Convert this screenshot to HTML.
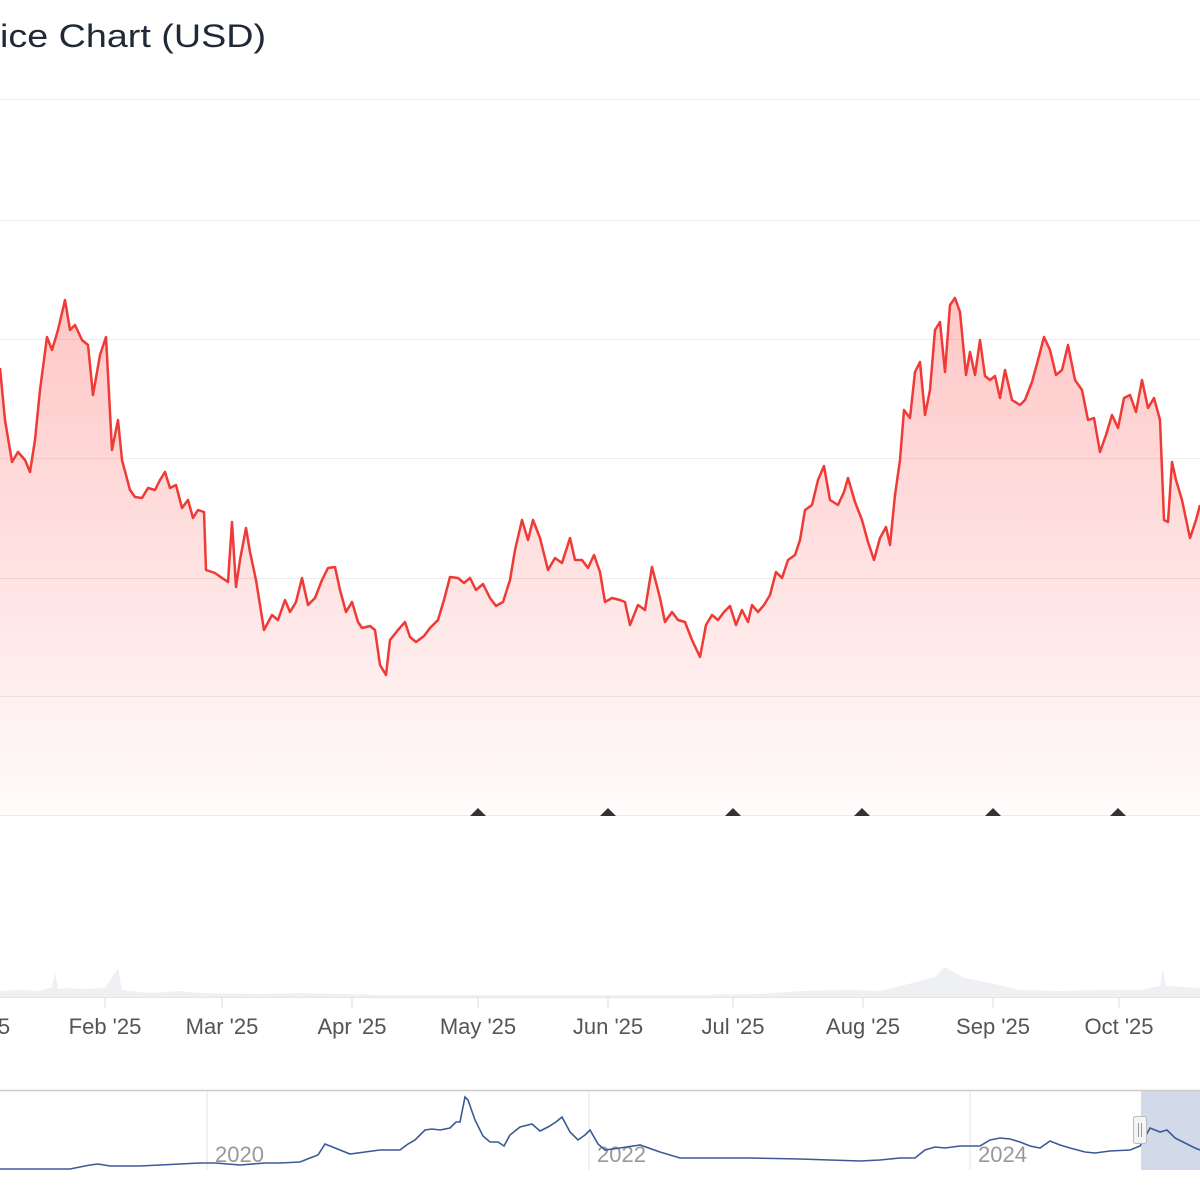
<!DOCTYPE html>
<html><head><meta charset="utf-8"><style>
html,body{margin:0;padding:0;background:#fff;width:1200px;height:1200px;overflow:hidden}
svg{display:block;font-family:"Liberation Sans",sans-serif}
</style></head><body>
<svg width="1200" height="1200" viewBox="0 0 1200 1200" xmlns="http://www.w3.org/2000/svg">
<defs>
<linearGradient id="g" gradientUnits="userSpaceOnUse" x1="0" y1="300" x2="0" y2="815">
<stop offset="0" stop-color="#f44" stop-opacity="0.3"/>
<stop offset="1" stop-color="#f44" stop-opacity="0.02"/>
</linearGradient>
<path id="p" d="M0,368 L5,420 L12,462 L18,452 L25,460 L30,472 L35,440 L40,390 L47,337 L52,350 L58,330 L65,300 L70,330 L75,325 L82,340 L88,345 L93,395 L100,355 L106,337 L112,450 L118,420 L122,460 L130,490 L135,497 L142,498 L148,488 L155,490 L160,480 L165,472 L170,488 L176,485 L182,508 L188,500 L193,518 L198,510 L204,512 L206,570 L215,573 L222,578 L228,582 L232,522 L236,587 L240,560 L246,528 L250,552 L256,580 L264,630 L272,615 L278,620 L285,600 L290,612 L296,602 L302,578 L308,605 L315,598 L322,580 L328,568 L335,567 L340,590 L346,612 L352,602 L358,622 L362,628 L370,626 L375,630 L380,665 L386,675 L390,640 L398,630 L405,622 L410,637 L416,642 L424,636 L430,628 L438,620 L444,600 L450,577 L458,578 L464,583 L470,578 L476,590 L483,584 L490,598 L496,606 L503,602 L510,580 L515,550 L522,520 L528,540 L533,520 L540,538 L548,570 L555,558 L562,563 L570,538 L575,560 L582,560 L588,568 L594,555 L600,572 L605,602 L612,598 L620,600 L625,602 L630,625 L638,605 L645,610 L652,567 L660,598 L665,622 L672,612 L678,620 L685,622 L692,640 L700,657 L706,625 L712,615 L718,620 L724,612 L730,606 L736,625 L742,610 L748,622 L752,605 L758,612 L764,605 L770,595 L776,572 L782,578 L788,560 L795,555 L800,540 L805,510 L812,505 L818,480 L824,466 L830,500 L838,505 L844,492 L848,478 L855,502 L862,520 L868,542 L874,560 L880,538 L886,527 L890,545 L895,495 L900,460 L904,410 L910,418 L915,372 L920,362 L925,415 L930,390 L935,330 L940,322 L945,372 L950,305 L955,298 L960,312 L966,375 L970,352 L975,375 L980,340 L985,376 L990,380 L995,376 L1000,398 L1005,370 L1012,400 L1020,405 L1025,400 L1032,382 L1038,360 L1044,337 L1050,350 L1056,375 L1062,370 L1068,345 L1075,380 L1082,390 L1088,420 L1094,418 L1100,452 L1106,435 L1112,415 L1118,428 L1124,398 L1130,395 L1136,412 L1142,380 L1148,408 L1154,398 L1160,420 L1164,520 L1168,522 L1172,462 L1176,480 L1182,500 L1190,538 L1196,520 L1200,505"/>
</defs>
<text x="0" y="47" font-size="32" fill="#1f2937" textLength="266" lengthAdjust="spacingAndGlyphs">ice Chart (USD)</text>
<g stroke="#ececec" stroke-width="1">
<line x1="0" x2="1200" y1="99.5" y2="99.5"/><line x1="0" x2="1200" y1="220.5" y2="220.5"/>
<line x1="0" x2="1200" y1="339.5" y2="339.5"/><line x1="0" x2="1200" y1="458.5" y2="458.5"/>
<line x1="0" x2="1200" y1="578.5" y2="578.5"/><line x1="0" x2="1200" y1="696.5" y2="696.5"/>
<line x1="0" x2="1200" y1="815.5" y2="815.5"/>
</g>
<path d="M0,368 L5,420 L12,462 L18,452 L25,460 L30,472 L35,440 L40,390 L47,337 L52,350 L58,330 L65,300 L70,330 L75,325 L82,340 L88,345 L93,395 L100,355 L106,337 L112,450 L118,420 L122,460 L130,490 L135,497 L142,498 L148,488 L155,490 L160,480 L165,472 L170,488 L176,485 L182,508 L188,500 L193,518 L198,510 L204,512 L206,570 L215,573 L222,578 L228,582 L232,522 L236,587 L240,560 L246,528 L250,552 L256,580 L264,630 L272,615 L278,620 L285,600 L290,612 L296,602 L302,578 L308,605 L315,598 L322,580 L328,568 L335,567 L340,590 L346,612 L352,602 L358,622 L362,628 L370,626 L375,630 L380,665 L386,675 L390,640 L398,630 L405,622 L410,637 L416,642 L424,636 L430,628 L438,620 L444,600 L450,577 L458,578 L464,583 L470,578 L476,590 L483,584 L490,598 L496,606 L503,602 L510,580 L515,550 L522,520 L528,540 L533,520 L540,538 L548,570 L555,558 L562,563 L570,538 L575,560 L582,560 L588,568 L594,555 L600,572 L605,602 L612,598 L620,600 L625,602 L630,625 L638,605 L645,610 L652,567 L660,598 L665,622 L672,612 L678,620 L685,622 L692,640 L700,657 L706,625 L712,615 L718,620 L724,612 L730,606 L736,625 L742,610 L748,622 L752,605 L758,612 L764,605 L770,595 L776,572 L782,578 L788,560 L795,555 L800,540 L805,510 L812,505 L818,480 L824,466 L830,500 L838,505 L844,492 L848,478 L855,502 L862,520 L868,542 L874,560 L880,538 L886,527 L890,545 L895,495 L900,460 L904,410 L910,418 L915,372 L920,362 L925,415 L930,390 L935,330 L940,322 L945,372 L950,305 L955,298 L960,312 L966,375 L970,352 L975,375 L980,340 L985,376 L990,380 L995,376 L1000,398 L1005,370 L1012,400 L1020,405 L1025,400 L1032,382 L1038,360 L1044,337 L1050,350 L1056,375 L1062,370 L1068,345 L1075,380 L1082,390 L1088,420 L1094,418 L1100,452 L1106,435 L1112,415 L1118,428 L1124,398 L1130,395 L1136,412 L1142,380 L1148,408 L1154,398 L1160,420 L1164,520 L1168,522 L1172,462 L1176,480 L1182,500 L1190,538 L1196,520 L1200,505 L1200,815 L0,815 Z" fill="url(#g)" stroke="none"/>
<use href="#p" fill="none" stroke="#ef3a36" stroke-width="2.5" stroke-linejoin="round"/>
<g fill="#333">
<path d="M478,808 l8,8 h-16 z"/><path d="M608,808 l8,8 h-16 z"/><path d="M733,808 l8,8 h-16 z"/>
<path d="M862,808 l8,8 h-16 z"/><path d="M993,808 l8,8 h-16 z"/><path d="M1118,808 l8,8 h-16 z"/>
</g>
<path d="M0,997 L0,991 L20,990 L40,991 L52,987 L55,972 L58,989 L70,988 L80,989 L105,988 L118,968 L122,990 L150,993 L180,991 L200,993 L260,994 L300,993 L380,995 L480,995 L560,995 L640,995 L700,995 L760,994 L800,991 L850,990 L880,991 L900,986 L920,981 L935,977 L945,967 L955,973 L965,978 L990,983 L1020,990 L1060,991 L1100,990 L1140,990 L1160,986 L1163,968 L1166,986 L1200,988 L1200,997 Z" fill="#eef0f4"/>
<line x1="0" x2="1200" y1="997.5" y2="997.5" stroke="#e6e6e6"/>
<g stroke="#ddd"><line x1="105" x2="105" y1="997" y2="1008"/><line x1="222" x2="222" y1="997" y2="1008"/><line x1="352" x2="352" y1="997" y2="1008"/><line x1="478" x2="478" y1="997" y2="1008"/><line x1="608" x2="608" y1="997" y2="1008"/><line x1="733" x2="733" y1="997" y2="1008"/><line x1="863" x2="863" y1="997" y2="1008"/><line x1="993" x2="993" y1="997" y2="1008"/><line x1="1119" x2="1119" y1="997" y2="1008"/></g>
<g font-size="22" fill="#555" text-anchor="middle">
<text x="4" y="1034">5</text><text x="105" y="1034">Feb '25</text><text x="222" y="1034">Mar '25</text><text x="352" y="1034">Apr '25</text><text x="478" y="1034">May '25</text><text x="608" y="1034">Jun '25</text><text x="733" y="1034">Jul '25</text><text x="863" y="1034">Aug '25</text><text x="993" y="1034">Sep '25</text><text x="1119" y="1034">Oct '25</text>
</g>
<rect x="1141" y="1091" width="59" height="79" fill="#cdd5e6" opacity="0.9"/>
<line x1="0" x2="1200" y1="1090.5" y2="1090.5" stroke="#ccc" stroke-width="1.5"/>
<g stroke="#e3e3e3"><line x1="207" x2="207" y1="1091" y2="1170"/><line x1="589" x2="589" y1="1091" y2="1170"/><line x1="970" x2="970" y1="1091" y2="1170"/></g>
<g font-size="22" fill="#999"><text x="215" y="1162">2020</text><text x="597" y="1162">2022</text><text x="978" y="1162">2024</text></g>
<polyline fill="none" stroke="#3a5a96" stroke-width="1.6" points="0,1169 70,1169 90,1165 98,1164 110,1166 140,1166 200,1163 215,1163 240,1165 265,1163 280,1163 300,1162 310,1158 318,1155 325,1144 335,1148 350,1154 365,1152 380,1150 400,1150 408,1144 415,1140 425,1130 432,1129 440,1130 450,1128 456,1122 460,1122 465,1097 468,1100 475,1120 483,1136 490,1142 498,1142 504,1146 510,1135 520,1127 532,1124 540,1131 548,1127 556,1122 562,1117 570,1132 578,1140 585,1135 590,1130 598,1144 605,1150 620,1148 640,1145 660,1152 680,1158 700,1158 750,1158 800,1159 830,1160 860,1161 880,1160 900,1158 915,1158 925,1150 935,1147 945,1148 960,1146 980,1146 990,1140 1000,1138 1010,1139 1020,1142 1030,1146 1040,1148 1050,1141 1060,1145 1070,1148 1085,1152 1095,1153 1110,1151 1130,1150 1140,1146 1150,1128 1160,1132 1167,1130 1175,1138 1185,1143 1195,1148 1200,1150"/>
<rect x="1133.5" y="1116.5" width="13" height="27" rx="2" fill="#f4f4f4" stroke="#bbb"/>
<g stroke="#999"><line x1="1138.5" x2="1138.5" y1="1123" y2="1137"/><line x1="1141.5" x2="1141.5" y1="1123" y2="1137"/></g>
</svg>
</body></html>
